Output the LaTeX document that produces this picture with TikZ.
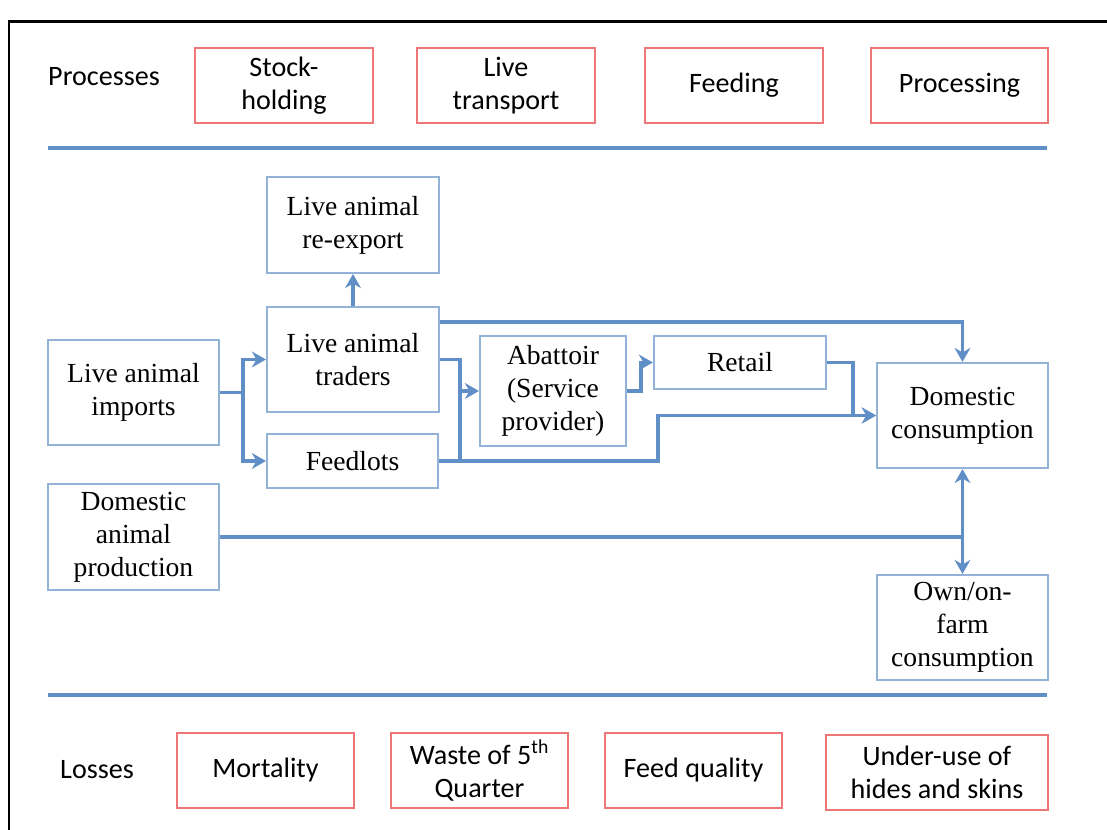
\documentclass[tikz,border=0pt]{standalone}
\usepackage{fontspec}
\setmainfont{Liberation Serif}
\newfontfamily\carlito{Carlito}
\usepackage{tikz}
\usetikzlibrary{arrows.meta}
\usetikzlibrary{calc}
\definecolor{boxblue}{RGB}{146,178,216}
\definecolor{lineblue}{RGB}{96,142,198}
\definecolor{boxred}{RGB}{238,118,118}
\tikzset{bx/.style={draw=boxblue,line width=1.2pt,inner sep=0pt,align=center,font=\fontsize{15.7}{18.8}\selectfont}}
\tikzset{rx/.style={draw=boxred,line width=1.2pt,inner sep=0pt,align=center,minimum height=1.5cm,font=\carlito\fontsize{16}{18.5}\selectfont}}
\tikzset{ln/.style={draw=lineblue,line width=2.1pt,-{Stealth[length=8pt,width=9pt]}}}
\tikzset{sl/.style={draw=lineblue,line width=2.6pt}}

\begin{document}
\begin{tikzpicture}[x=0.02cm,y=-0.02cm]
          \useasboundingbox (0,0) rectangle (1107,830);
          \draw[line width=1.7pt] (9,830) -- (9,22) -- (1107,22);
          \node[font=\carlito\fontsize{16}{18.5}\selectfont] (PRC) at (104,77) {Processes};
          \node[rx,minimum width=3.56cm] (SH) at (284,85.5) {Stock-\\holding};
          \node[rx,minimum width=3.56cm] (LT) at (506,85.5) {Live\\transport};
          \node[rx,minimum width=3.56cm] (FD) at (734,85.5) {Feeding};
          \node[rx,minimum width=3.54cm] (PR) at (959.5,85.5) {Processing};
          \draw[sl] (48,148) -- (1047,148);
          \node[bx,minimum width=3.44cm,minimum height=1.92cm] (LAR) at (353,225) {Live animal\\re-export};
          \node[bx,minimum width=3.44cm,minimum height=2.1cm] (LAT) at (353,359.5) {Live animal\\traders};
          \node[bx,minimum width=3.42cm,minimum height=2.1cm] (LAI) at (133.5,392.5) {Live animal\\imports};
          \node[bx,minimum width=3.42cm,minimum height=1.08cm] (FL) at (352.5,461) {Feedlots};
          \node[bx,minimum width=2.92cm,minimum height=2.2cm] (AB) at (553,391) {Abattoir\\(Service\\provider)};
          \node[bx,minimum width=3.44cm,minimum height=1.06cm] (RT) at (740,362.5) {Retail};
          \node[bx,minimum width=3.42cm,minimum height=2.1cm] (DC) at (962.5,415.5) {Domestic\\consumption};
          \node[bx,minimum width=3.42cm,minimum height=2.12cm] (DAP) at (133.5,537) {Domestic\\animal\\production};
          \node[bx,minimum width=3.42cm,minimum height=2.1cm] (OFC) at (962.5,627.5) {Own/on-\\farm\\consumption};
          \coordinate (split) at (243,392.5);
          \coordinate (merge) at (460,461);
          \coordinate (bend) at (658,461);
          \coordinate (fork) at (DC.south |- DAP.east);
          \draw[ln,-] (LAI.east) -- (split);
          \draw[ln] (split) |- (LAT.west);
          \draw[ln] (split) |- (FL.west);
          \draw[ln] (LAT.north) -- (LAR.south);
          \draw[ln] ([yshift=0.75cm]LAT.east) -| (DC.north);
          \draw[ln,-] (LAT.east) -| (merge);
          \draw[ln] (merge |- AB.west) -- (AB.west);
          \draw[ln] (FL.east) -- (bend) |- (DC.west);
          \draw[ln] (AB.east) -- ++(0.28cm,0) |- (RT.west);
          \draw[ln] (RT.east) -- ++(0.52cm,0) |- (DC.west);
          \draw[ln,-] (DAP.east) -- (fork);
          \draw[ln] (fork) -- (DC.south);
          \draw[ln] (fork) -- (OFC.north);
          \draw[sl] (48,695) -- (1047,695);
          \node[font=\carlito\fontsize{16}{18.5}\selectfont] (LOS) at (97,770) {Losses};
          \node[rx,minimum width=3.54cm] (MO) at (265.5,770.5) {Mortality};
          \node[rx,minimum width=3.54cm] (WQ) at (479.5,770.5) {Waste of 5\textsuperscript{th}\\Quarter};
          \node[rx,minimum width=3.54cm] (FQ) at (693.5,770.5) {Feed quality};
          \node[rx,minimum width=4.44cm] (UH) at (937,772.5) {Under-use of\\hides and skins};
        \end{tikzpicture}
\end{document}
